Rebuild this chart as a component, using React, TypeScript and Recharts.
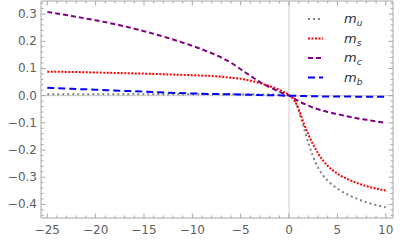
import React from "react";
import {
  LineChart,
  Line,
  XAxis,
  YAxis,
  ReferenceLine,
  Legend,
} from "recharts";

const xs = [-25, -22.5, -20, -17.5, -15, -12.5, -10, -8, -6, -5, -4, -3, -2, -1, -0.5, 0, 0.5, 1, 1.5, 2, 2.5, 3, 3.5, 4, 5, 6, 7, 8, 9, 10];
const mu = [0.005, 0.005, 0.005, 0.005, 0.005, 0.005, 0.005, 0.005, 0.005, 0.005, 0.005, 0.004, 0.004, 0.003, 0.002, 0, -0.012, -0.055, -0.115, -0.175, -0.225, -0.265, -0.293, -0.313, -0.342, -0.363, -0.379, -0.392, -0.402, -0.411];
const ms = [0.088, 0.087, 0.085, 0.083, 0.081, 0.078, 0.075, 0.072, 0.066, 0.062, 0.055, 0.046, 0.035, 0.021, 0.013, 0.003, -0.015, -0.05, -0.1, -0.143, -0.18, -0.212, -0.238, -0.258, -0.287, -0.306, -0.321, -0.333, -0.342, -0.349];
const mc = [0.308, 0.293, 0.277, 0.259, 0.237, 0.212, 0.183, 0.156, 0.121, 0.097, 0.073, 0.05, 0.031, 0.014, 0.007, 0, -0.01, -0.02, -0.029, -0.037, -0.044, -0.05, -0.055, -0.06, -0.068, -0.076, -0.083, -0.089, -0.095, -0.1];
const mb = [0.029, 0.025, 0.022, 0.018, 0.015, 0.011, 0.008, 0.006, 0.005, 0.004, 0.003, 0.002, 0.001, 0.001, 0, 0, 0, -0.001, -0.001, -0.002, -0.002, -0.002, -0.003, -0.003, -0.003, -0.003, -0.004, -0.004, -0.004, -0.004];

const xTicks = Array.from({ length: 36 }, (_, i) => i - 25);
const yTicks = Array.from({ length: 40 }, (_, i) => Math.round((i - 22) * 2) / 100);

const data = xs.map((x, i) => ({ x, mu: mu[i], ms: ms[i], mc: mc[i], mb: mb[i] }));

const series = [
  { key: "mu", sub: "u", color: "#808080", dash: "2 3" },
  { key: "ms", sub: "s", color: "#ff0000", dash: "2 1.5" },
  { key: "mc", sub: "c", color: "#800080", dash: "5 3" },
  { key: "mb", sub: "b", color: "#0000ff", dash: "7 4" },
];

const FONT = "DejaVu Sans, sans-serif";
const LABEL = "#606060";
const FRAME = "#a6a6a6";
const XDOM: [number, number] = [-25.65, 10.75];
const YDOM: [number, number] = [-0.45, 0.348];

const fmt = (v: number) => (v < 0 ? "\u2212" : "") + Math.abs(v).toString();
const fmtY = (v: number) => (v < 0 ? "\u2212" : "") + Math.abs(v).toFixed(1);

const BottomTick = (p: any) => {
  const v = p.payload.value;
  const major = v % 5 === 0;
  return (
    <g>
      <line x1={p.x} y1={p.y} x2={p.x} y2={p.y - (major ? 4.5 : 2.5)} stroke={FRAME} />
      {major && (
        <text x={p.x} y={p.y + 16} textAnchor="middle" fontSize={12} fontFamily={FONT} fill={LABEL}>
          {fmt(v)}
        </text>
      )}
    </g>
  );
};

const TopTick = (p: any) => {
  const v = p.payload.value;
  const major = v % 5 === 0;
  return <line x1={p.x} y1={p.y} x2={p.x} y2={p.y + (major ? 4.5 : 2.5)} stroke={FRAME} />;
};

const isMajorY = (v: number) => Math.abs(Math.round(v * 50)) % 5 === 0;

const LeftTick = (p: any) => {
  const v = p.payload.value;
  const major = isMajorY(v);
  return (
    <g>
      <line x1={p.x} y1={p.y} x2={p.x + (major ? 4.5 : 2.5)} y2={p.y} stroke={FRAME} />
      {major && (
        <text x={p.x - 4} y={p.y + 4} textAnchor="end" fontSize={12} fontFamily={FONT} fill={LABEL}>
          {fmtY(v)}
        </text>
      )}
    </g>
  );
};

const RightTick = (p: any) => {
  const v = p.payload.value;
  const major = isMajorY(v);
  return <line x1={p.x} y1={p.y} x2={p.x - (major ? 4.5 : 2.5)} y2={p.y} stroke={FRAME} />;
};

const LegendBox = () => (
  <svg width={80} height={90}>
    {series.map((s, i) => {
      const y = 19 + i * 19.5;
      return (
        <g key={s.key}>
          <line x1={8} y1={y} x2={23} y2={y} stroke={s.color} strokeWidth={2} strokeDasharray={s.dash} />
          <text x={44} y={y + 4} fontSize={13} fontStyle="italic" fontFamily={FONT} fill="#333">
            m
            <tspan fontSize={9} dy={3}>{s.sub}</tspan>
          </text>
        </g>
      );
    })}
  </svg>
);

export default function App() {
  return (
    <div style={{ position: "absolute", left: 0, top: 0 }}>
      <LineChart width={415} height={248} data={data} margin={{ top: 0, right: 21, bottom: 0, left: 0 }}>
        <XAxis
          dataKey="x"
          type="number"
          domain={XDOM}
          ticks={xTicks}
          interval={0}
          height={30}
          tickSize={0}
          tickMargin={0}
          tickLine={false}
          axisLine={{ stroke: FRAME }}
          tick={<BottomTick />}
          allowDataOverflow
        />
        <XAxis
          xAxisId="top"
          dataKey="x"
          orientation="top"
          type="number"
          domain={XDOM}
          ticks={xTicks}
          interval={0}
          height={1}
          tickSize={0}
          tickMargin={0}
          tickLine={false}
          axisLine={{ stroke: FRAME }}
          tick={<TopTick />}
          allowDataOverflow
        />
        <YAxis
          type="number"
          domain={YDOM}
          ticks={yTicks}
          interval={0}
          width={41}
          tickSize={0}
          tickMargin={0}
          tickLine={false}
          axisLine={{ stroke: FRAME }}
          tick={<LeftTick />}
          allowDataOverflow
        />
        <YAxis
          yAxisId="right"
          orientation="right"
          type="number"
          domain={YDOM}
          ticks={yTicks}
          interval={0}
          width={1}
          tickSize={0}
          tickMargin={0}
          tickLine={false}
          axisLine={{ stroke: FRAME }}
          tick={<RightTick />}
          allowDataOverflow
        />
        <ReferenceLine x={0} stroke="#cccccc" />
        <ReferenceLine y={0} stroke="#cccccc" />
        {series.map((s) => (
          <Line
            key={s.key}
            dataKey={s.key}
            type="monotone"
            stroke={s.color}
            strokeWidth={2}
            strokeDasharray={s.dash}
            dot={false}
            isAnimationActive={false}
          />
        ))}
        <Line
          xAxisId="top"
          yAxisId="right"
          dataKey="mb"
          stroke="none"
          dot={false}
          activeDot={false}
          legendType="none"
          isAnimationActive={false}
        />
        <Legend
          layout="vertical"
          align="center"
          verticalAlign="middle"
          content={<LegendBox />}
          wrapperStyle={{ position: "absolute", left: 300, top: 0, width: 80, height: 90 }}
        />
      </LineChart>
    </div>
  );
}
